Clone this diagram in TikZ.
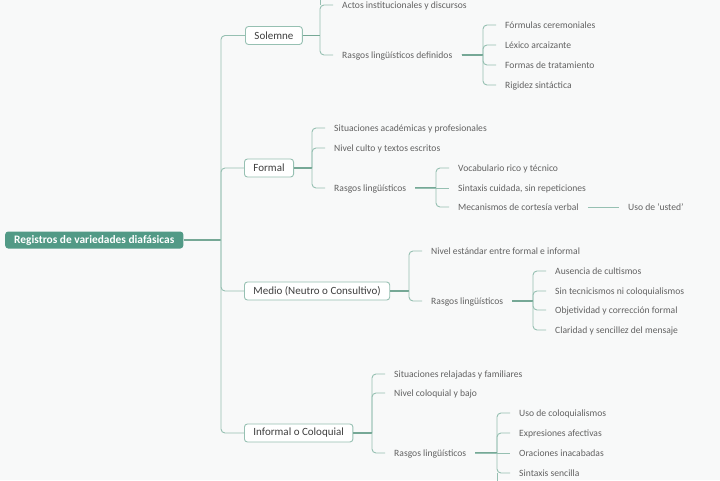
\documentclass[tikz,border=0pt]{standalone}
\usepackage{fontspec}
\setmainfont{Carlito}
\usepackage{xcolor}
\definecolor{mapbg}{RGB}{248,249,249}
\definecolor{mapline}{RGB}{150,192,178}
\definecolor{mapstem}{RGB}{118,168,150}
\definecolor{maproot}{RGB}{82,154,134}
\definecolor{leafgray}{RGB}{98,98,98}
\definecolor{topicgray}{RGB}{62,62,62}
\usetikzlibrary{positioning,calc}

\tikzset{
	rootbox/.style={
		fill=maproot,          % teal fill
		text=white,
		font=\fontsize{11.4}{13}\selectfont\bfseries,
		rounded corners=3pt,
		inner xsep=9pt,
		minimum height=17pt,
		anchor=west
	},
	topicbox/.style={
		draw=mapline,
		fill=white,
		line width=0.9pt,
		text=topicgray,
		font=\fontsize{11}{13}\selectfont,
		rounded corners=3pt,
		inner xsep=9pt,
		minimum height=18pt,
		anchor=west
	},
	leafnode/.style={
		text=leafgray,
		font=\fontsize{9.6}{11}\selectfont,
		text height=9pt, text depth=1.5pt,
		inner xsep=9pt, inner ysep=1pt,
		anchor=west
	},
	link/.style={draw=mapline, line width=0.9pt, rounded corners=4pt},
	stem/.style={draw=mapstem, line width=1.1pt}
}

\begin{document}
\begin{tikzpicture}[x=1pt,y=-1pt]
	\fill[mapbg] (0,0) rectangle (720,480);
	\useasboundingbox (0,0) rectangle (720,480);
	\clip (0,0) rectangle (720,480);

	% root and main topics
	\node[rootbox] (root) at (5,240) {Registros de variedades diafásicas};
	\node[topicbox] (solemne) at (245,35.5) {Solemne};
	\node[topicbox] (formal) at (244,168) {Formal};
	\node[topicbox] (medio) at (244,291) {Medio (Neutro o Consultivo)};
	\node[topicbox] (informal) at (244,433) {Informal o Coloquial};

	% Solemne
	\node[leafnode] (solActos) at (333,5) {Actos institucionales y discursos};
	\node[leafnode] (solRasgos) at (333,55) {Rasgos lingüísticos definidos};
	\node[leafnode] (solFormulas) at (496,25) {Fórmulas ceremoniales};
	\node[leafnode] (solLexico) at (496,45) {Léxico arcaizante};
	\node[leafnode] (solFormas) at (496,65) {Formas de tratamiento};
	\node[leafnode] (solRigidez) at (496,85) {Rigidez sintáctica};

	% Formal
	\node[leafnode] (forSituaciones) at (325,128) {Situaciones académicas y profesionales};
	\node[leafnode] (forNivel) at (325,148) {Nivel culto y textos escritos};
	\node[leafnode] (forRasgos) at (325,188) {Rasgos lingüísticos};
	\node[leafnode] (forVocabulario) at (449,168) {Vocabulario rico y técnico};
	\node[leafnode] (forSintaxis) at (449,188) {Sintaxis cuidada, sin repeticiones};
	\node[leafnode] (forMecanismos) at (449,207) {Mecanismos de cortesía verbal};
	\node[leafnode] (forUsted) at (619,207) {Uso de 'usted'};

	% Medio
	\node[leafnode] (medNivel) at (422,251) {Nivel estándar entre formal e informal};
	\node[leafnode] (medRasgos) at (422,301) {Rasgos lingüísticos};
	\node[leafnode] (medAusencia) at (546,271) {Ausencia de cultismos};
	\node[leafnode] (medSin) at (546,291) {Sin tecnicismos ni coloquialismos};
	\node[leafnode] (medObjetividad) at (546,310) {Objetividad y corrección formal};
	\node[leafnode] (medClaridad) at (546,330) {Claridad y sencillez del mensaje};

	% Informal o Coloquial
	\node[leafnode] (infSituaciones) at (385,374) {Situaciones relajadas y familiares};
	\node[leafnode] (infNivel) at (385,393) {Nivel coloquial y bajo};
	\node[leafnode] (infRasgos) at (385,453) {Rasgos lingüísticos};
	\node[leafnode] (infUso) at (510,413) {Uso de coloquialismos};
	\node[leafnode] (infExpresiones) at (510,433) {Expresiones afectivas};
	\node[leafnode] (infOraciones) at (510,453) {Oraciones inacabadas};
	\node[leafnode] (infSintaxis) at (510,473) {Sintaxis sencilla};

	% trunk
	\coordinate (trunk) at ([xshift=-24pt]solemne.west |- root.east);
	\draw[stem] (root.east) -- (trunk);
	\foreach \c in {solemne,formal,medio,informal}
		\draw[link] (trunk) |- (\c.west);

	% brackets
	\foreach \p/\c in {solemne/solActos, solemne/solRasgos,
		solRasgos/solFormulas, solRasgos/solLexico, solRasgos/solFormas, solRasgos/solRigidez,
		formal/forSituaciones, formal/forNivel, formal/forRasgos,
		forRasgos/forVocabulario, forRasgos/forMecanismos,
		medio/medNivel, medio/medRasgos,
		medRasgos/medAusencia, medRasgos/medSin, medRasgos/medObjetividad, medRasgos/medClaridad,
		informal/infSituaciones, informal/infNivel, informal/infRasgos,
		infRasgos/infUso, infRasgos/infExpresiones, infRasgos/infSintaxis}
	{
		\draw[stem] (\p.east) -- ([xshift=-13pt]\c.west |- \p.east);
		\draw[link] ([xshift=-13pt]\c.west |- \p.east) |- (\c.west);
	}
	% children level with their parent
	\foreach \p/\c in {forRasgos/forSintaxis, forMecanismos/forUsted, infRasgos/infOraciones}
		\draw[link] (\p.east) -- (\c.west);

	% branches running past the edges
	\coordinate (solTop) at ($(solActos.west)+(-13,-15)$);
	\coordinate (infBottom) at ($(infSintaxis.west)+(-13,15)$);
	\draw[link] ([xshift=-13pt]solActos.west) -- (solTop);
	\draw[link] ([xshift=-13pt]infSintaxis.west) -- (infBottom);
\end{tikzpicture}
\end{document}
